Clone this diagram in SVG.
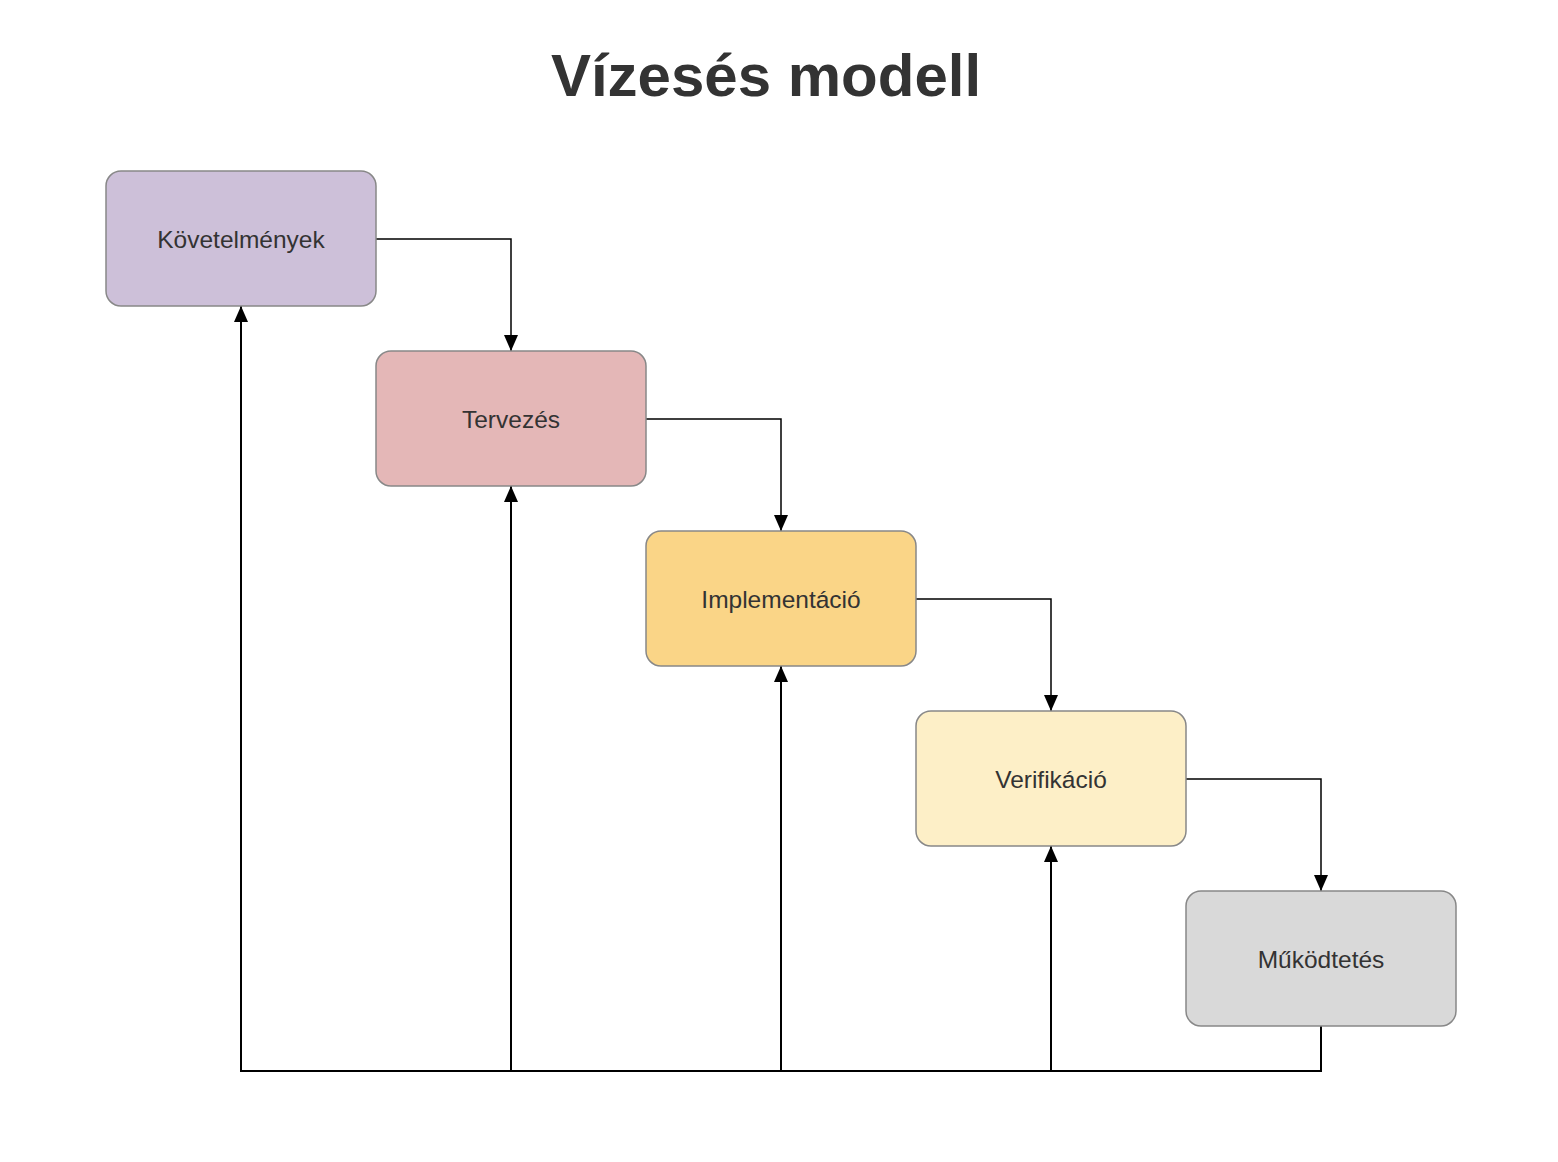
<svg xmlns="http://www.w3.org/2000/svg" width="1558" height="1162" viewBox="0 0 1558 1162">
<style>
.node{stroke:#888;stroke-width:1.5}
.lbl{font-family:"Liberation Sans",Arial,sans-serif;font-size:24.5px;fill:#333;text-anchor:middle;dominant-baseline:central}
.fw{fill:none;stroke:#000;stroke-width:1.5}
.fb{fill:none;stroke:#000;stroke-width:2}
.title{font-family:"Liberation Sans",Arial,sans-serif;font-size:60px;font-weight:bold;fill:#333;text-anchor:middle}
</style>
<defs>
<marker id="ah" viewBox="0 0 16 14" refX="16" refY="7" markerWidth="16" markerHeight="14" markerUnits="userSpaceOnUse" orient="auto">
<path d="M0,0 L16,7 L0,14 Z" fill="#000"/>
</marker>
</defs>
<rect width="1558" height="1162" fill="#fff"/>
<text class="title" x="766" y="96">Vízesés modell</text>
<g id="connectors">
<path class="fw" d="M376,239 H511 V351" marker-end="url(#ah)"/>
<path class="fw" d="M646,419 H781 V531" marker-end="url(#ah)"/>
<path class="fw" d="M916,599 H1051 V711" marker-end="url(#ah)"/>
<path class="fw" d="M1186,779 H1321 V891" marker-end="url(#ah)"/>
<path class="fb" d="M1321,1026 V1071 H241 V306" marker-end="url(#ah)"/>
<path class="fb" d="M1321,1026 V1071 H511 V486" marker-end="url(#ah)"/>
<path class="fb" d="M1321,1026 V1071 H781 V666" marker-end="url(#ah)"/>
<path class="fb" d="M1321,1026 V1071 H1051 V846" marker-end="url(#ah)"/>
</g>
<g id="n1"><rect class="node" x="106" y="171" width="270" height="135" rx="15" fill="#cdc0d9"/><text class="lbl" x="241" y="239">Követelmények</text></g>
<g id="n2"><rect class="node" x="376" y="351" width="270" height="135" rx="15" fill="#e4b7b7"/><text class="lbl" x="511" y="419">Tervezés</text></g>
<g id="n3"><rect class="node" x="646" y="531" width="270" height="135" rx="15" fill="#fad587"/><text class="lbl" x="781" y="599">Implementáció</text></g>
<g id="n4"><rect class="node" x="916" y="711" width="270" height="135" rx="15" fill="#fdefc7"/><text class="lbl" x="1051" y="779">Verifikáció</text></g>
<g id="n5"><rect class="node" x="1186" y="891" width="270" height="135" rx="15" fill="#d9d9d9"/><text class="lbl" x="1321" y="959">Működtetés</text></g>
</svg>
